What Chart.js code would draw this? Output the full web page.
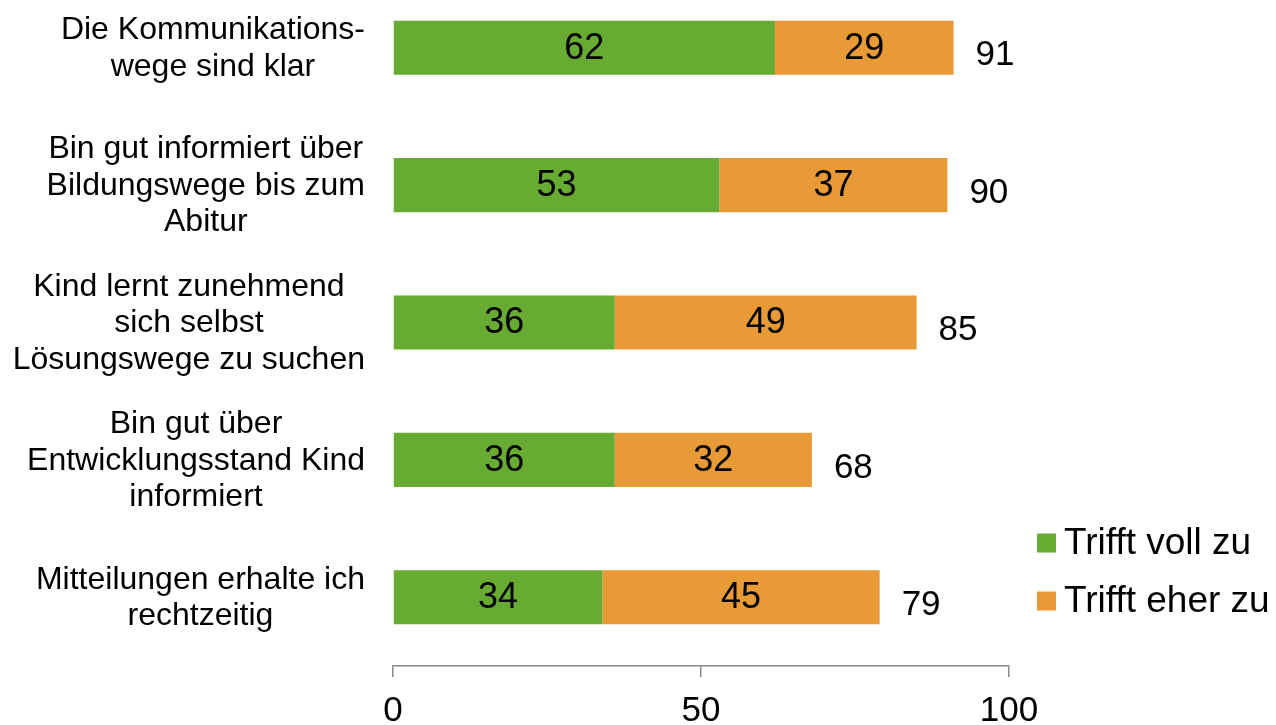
<!DOCTYPE html>
<html lang="de">
<head>
<meta charset="utf-8">
<title>Kommunikation</title>
<script src="https://cdn.jsdelivr.net/npm/chart.js@4"></script>
<style>
  html, body { margin: 0; padding: 0; background: #fff; overflow: hidden; }
  #wrap { position: absolute; left: 0; top: -21px; width: 1276px; height: 746px; }
</style>
</head>
<body>
<div id="wrap"><canvas id="chart" width="1276" height="746"></canvas></div>
<script>
/* ── Data ── */
const CATEGORIES = [
  ['Die Kommunikations-', 'wege sind klar'],
  ['Bin gut informiert über', 'Bildungswege bis zum', 'Abitur'],
  ['Kind lernt zunehmend', 'sich selbst', 'Lösungswege zu suchen'],
  ['Bin gut über', 'Entwicklungsstand Kind', 'informiert'],
  ['Mitteilungen erhalte ich', 'rechtzeitig'],
];
const VOLL = [62, 53, 36, 36, 34];
const EHER = [29, 37, 49, 32, 45];
const TOTALS = [91, 90, 85, 68, 79];
const SERIES = ['Trifft voll zu', 'Trifft eher zu'];
const COLORS = ['#67ab33', '#e89a36'];
const X_TICKS = [0, 50, 100];

const FONT = '"Liberation Sans", Arial, Helvetica, sans-serif';
Chart.defaults.font.family = FONT;

/* ── Labels, values, totals and legend drawn on top ── */
const annotate = {
  id: 'annotate',
  afterDraw(chart) {
    const ctx = chart.ctx;
    const yScale = chart.scales.y;
    const xScale = chart.scales.x;
    ctx.save();
    ctx.fillStyle = '#000';

    /* category labels: block right-aligned, lines centred */
    ctx.font = '32px ' + FONT;
    ctx.textBaseline = 'middle';
    ctx.textAlign = 'center';
    const lineH = 36.5;
    CATEGORIES.forEach((lines, i) => {
      const cy = yScale.getPixelForValue(i);
      const w = Math.max(...lines.map(l => ctx.measureText(l).width));
      const cx = 365 - w / 2;
      const y0 = cy - (lines.length - 1) * lineH / 2 + 1;
      lines.forEach((l, k) => ctx.fillText(l, cx, y0 + k * lineH));
    });

    /* segment values */
    ctx.font = '36px ' + FONT;
    chart.data.datasets.forEach((ds, d) => {
      chart.getDatasetMeta(d).data.forEach((bar, i) => {
        ctx.fillText(String(ds.data[i]), (bar.x + bar.base) / 2, bar.y + 1);
      });
    });

    /* totals */
    ctx.font = '35px ' + FONT;
    ctx.textAlign = 'left';
    TOTALS.forEach((t, i) => {
      ctx.fillText(String(t), xScale.getPixelForValue(t) + 22, yScale.getPixelForValue(i) + 8);
    });

    /* legend */
    ctx.font = '37px ' + FONT;
    SERIES.forEach((name, d) => {
      const cy = 564 + d * 58;
      ctx.fillStyle = COLORS[d];
      ctx.fillRect(1037, cy - 9.5, 19, 19);
      ctx.fillStyle = '#000';
      ctx.fillText(name, 1064, cy + 1);
    });
    ctx.restore();
  }
};

new Chart(document.getElementById('chart'), {
  type: 'bar',
  data: {
    labels: CATEGORIES,
    datasets: SERIES.map((name, d) => ({
      label: name,
      data: d === 0 ? VOLL : EHER,
      backgroundColor: COLORS[d],
      borderWidth: 0,
      categoryPercentage: 1,
      barPercentage: 0.394,
    })),
  },
  options: {
    indexAxis: 'y',
    responsive: false,
    animation: false,
    layout: { padding: { left: 393, right: 267, top: 0, bottom: 0 } },
    plugins: { legend: { display: false }, tooltip: { enabled: false } },
    scales: {
      y: {
        stacked: true,
        display: false,
      },
      x: {
        stacked: true,
        min: 0,
        max: 100,
        afterBuildTicks: s => { s.ticks = X_TICKS.map(v => ({ value: v })); },
        afterFit: s => { s.height = 59; },
        ticks: { color: '#000', font: { size: 35 }, padding: 13, maxRotation: 0 },
        grid: { drawOnChartArea: false, drawTicks: true, tickLength: 11, color: '#888', lineWidth: 1.5 },
        border: { color: '#888', width: 1.5 },
      },
    },
  },
  plugins: [annotate],
});
</script>
</body>
</html>
